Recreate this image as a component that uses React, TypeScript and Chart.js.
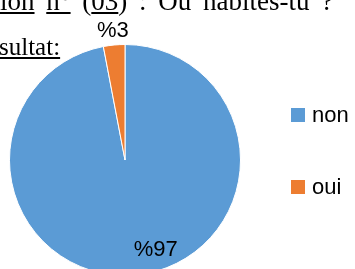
import React, { useEffect, useRef } from "react";
import { Chart, registerables } from "chart.js";

Chart.register(...registerables);

const categories = ["non", "oui"];
const values = [97, 3];
const valueLabels = ["%97", "%3"];
const colors = ["#5B9BD5", "#ED7D31"];

const labelPlugin = {
  id: "sliceLabels",
  afterDatasetsDraw(chart: any) {
    const ctx = chart.ctx;
    const meta = chart.getDatasetMeta(0);
    const place = [
      { r: 0.82, shift: -13.5 },
      { r: 1.12, shift: 0 },
    ];
    ctx.save();
    ctx.fillStyle = "#000";
    ctx.font = "22px 'Liberation Sans', Arial, sans-serif";
    ctx.textAlign = "center";
    ctx.textBaseline = "middle";
    meta.data.forEach((arc: any, i: number) => {
      const p = arc.getProps(["x", "y", "startAngle", "endAngle", "outerRadius"], true);
      const mid = (p.startAngle + p.endAngle) / 2 + (place[i].shift * Math.PI) / 180;
      const r = p.outerRadius * place[i].r;
      ctx.fillText(valueLabels[i], p.x + Math.cos(mid) * r, p.y + Math.sin(mid) * r);
    });
    ctx.restore();
  },
};

export default function App() {
  const ref = useRef<HTMLCanvasElement | null>(null);
  useEffect(() => {
    if (!ref.current) return;
    const chart = new Chart(ref.current, {
      type: "pie",
      data: {
        labels: categories,
        datasets: [
          {
            data: values,
            backgroundColor: colors,
            borderColor: "#ffffff",
            borderWidth: 1,
          },
        ],
      },
      options: {
        animation: false,
        responsive: false,
        layout: { padding: { left: 9, top: 44, right: 114, bottom: 24 } },
        plugins: { legend: { display: false }, tooltip: { enabled: false } },
      },
      plugins: [labelPlugin],
    });
    return () => chart.destroy();
  }, []);

  const serif = "'Liberation Serif', 'Times New Roman', serif";
  const sans = "'Liberation Sans', Arial, sans-serif";
  return (
    <div style={{ position: "fixed", left: 0, top: 0, width: 355, height: 269, overflow: "hidden", background: "#fff" }}>
      <canvas ref={ref} width={355} height={300} style={{ position: "absolute", left: 0, top: 0 }} />
      <div style={{ position: "absolute", left: 0, top: -14, fontFamily: serif, fontSize: 27, whiteSpace: "nowrap", color: "#000", wordSpacing: 5 }}>
        <u>ion</u> <u>n°</u> (<u>03</u>) : Où habites-tu ?
      </div>
      <div style={{ position: "absolute", left: -1, top: 33, fontFamily: serif, fontSize: 25, whiteSpace: "nowrap", color: "#000" }}>
        <u>sultat:</u>
      </div>
      {categories.map((c, i) => (
        <div key={c} style={{ position: "absolute", left: 291, top: i === 0 ? 101 : 173, height: 28, display: "flex", alignItems: "center", fontFamily: sans, fontSize: 22, color: "#000" }}>
          <span style={{ display: "inline-block", width: 14, height: 14, background: colors[i], marginRight: 7 }} />
          {c}
        </div>
      ))}
    </div>
  );
}
